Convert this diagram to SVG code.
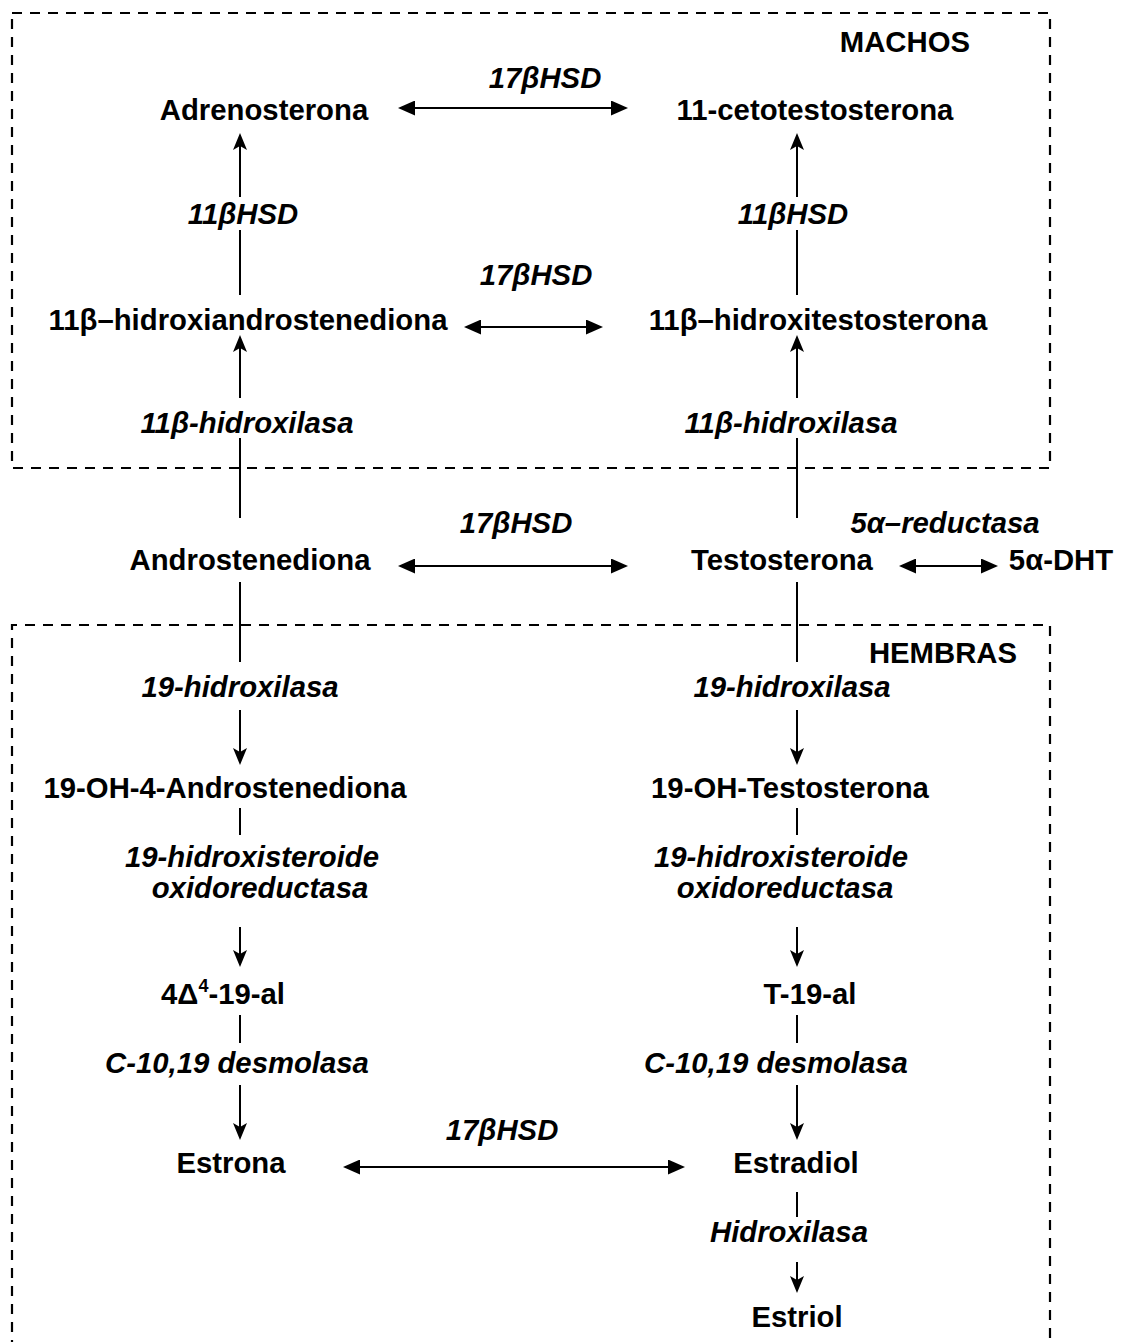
<svg xmlns="http://www.w3.org/2000/svg" width="1122" height="1342" viewBox="0 0 1122 1342">
<style>
.n{font-family:"Liberation Sans",Arial,sans-serif;font-weight:bold;font-size:29.3px;fill:#000;text-anchor:middle}
.e{font-family:"Liberation Sans",Arial,sans-serif;font-weight:bold;font-style:italic;font-size:29.3px;fill:#000;text-anchor:middle}
.box{fill:none;stroke:#000;stroke-width:2.2;stroke-dasharray:10 8}
.ln{stroke:#000;stroke-width:2;fill:none}
.h{stroke:#000;stroke-width:2;fill:none;marker-start:url(#tri);marker-end:url(#tri)}
.v{stroke:#000;stroke-width:2;fill:none;marker-end:url(#stl)}
</style>
<defs>
<marker id="tri" viewBox="0 0 17 15" refX="8" refY="7.5" markerWidth="17" markerHeight="15" markerUnits="userSpaceOnUse" orient="auto-start-reverse">
<path d="M0,0 L17,7.5 L0,15 z" fill="#000"/>
</marker>
<marker id="stl" viewBox="0 0 17 14" refX="8" refY="7" markerWidth="17" markerHeight="14" markerUnits="userSpaceOnUse" orient="auto">
<path d="M0,0 L17,7 L0,14 L4,7 z" fill="#000"/>
</marker>
</defs>
<rect width="1122" height="1342" fill="#fff"/>

<g id="regions">
<rect id="machos-box" class="box" x="12" y="13" width="1038" height="455"/>
<path id="hembras-box" class="box" d="M12,1350 L12,625 L1050,625 L1050,1350"/>
<text class="n" x="970" y="52" style="text-anchor:end">MACHOS</text>
<text class="n" x="1017" y="663" style="text-anchor:end">HEMBRAS</text>
</g>

<g id="connectors">
<line class="h" x1="407" y1="108" x2="619" y2="108"/>
<line class="h" x1="473" y1="327" x2="594" y2="327"/>
<line class="h" x1="407" y1="566" x2="619" y2="566"/>
<line class="h" x1="908" y1="566" x2="989" y2="566"/>
<line class="h" x1="352" y1="1167" x2="676" y2="1167"/>

<line class="v" x1="240" y1="197" x2="240" y2="142"/>
<line class="ln" x1="240" y1="230" x2="240" y2="295"/>
<line class="v" x1="240" y1="398" x2="240" y2="344"/>
<line class="ln" x1="240" y1="438" x2="240" y2="518"/>
<line class="ln" x1="240" y1="582" x2="240" y2="662"/>
<line class="v" x1="240" y1="710" x2="240" y2="756"/>
<line class="ln" x1="240" y1="808" x2="240" y2="835"/>
<line class="v" x1="240" y1="927" x2="240" y2="958"/>
<line class="ln" x1="240" y1="1015" x2="240" y2="1043"/>
<line class="v" x1="240" y1="1085" x2="240" y2="1131"/>

<line class="v" x1="797" y1="197" x2="797" y2="142"/>
<line class="ln" x1="797" y1="230" x2="797" y2="295"/>
<line class="v" x1="797" y1="398" x2="797" y2="344"/>
<line class="ln" x1="797" y1="438" x2="797" y2="518"/>
<line class="ln" x1="797" y1="582" x2="797" y2="662"/>
<line class="v" x1="797" y1="710" x2="797" y2="756"/>
<line class="ln" x1="797" y1="808" x2="797" y2="835"/>
<line class="v" x1="797" y1="927" x2="797" y2="958"/>
<line class="ln" x1="797" y1="1015" x2="797" y2="1043"/>
<line class="v" x1="797" y1="1085" x2="797" y2="1131"/>
<line class="ln" x1="797" y1="1192" x2="797" y2="1217"/>
<line class="v" x1="797" y1="1262" x2="797" y2="1284"/>
</g>

<g id="enzyme-labels">
<text class="e" x="545" y="88">17βHSD</text>
<text class="e" x="243" y="224">11βHSD</text>
<text class="e" x="793" y="224">11βHSD</text>
<text class="e" x="536" y="285">17βHSD</text>
<text class="e" x="247" y="433">11β-hidroxilasa</text>
<text class="e" x="791" y="433">11β-hidroxilasa</text>
<text class="e" x="516" y="533">17βHSD</text>
<text class="e" x="945" y="533">5α–reductasa</text>
<text class="e" x="240" y="697">19-hidroxilasa</text>
<text class="e" x="792" y="697">19-hidroxilasa</text>
<text class="e" x="252" y="867">19-hidroxisteroide</text>
<text class="e" x="260" y="898">oxidoreductasa</text>
<text class="e" x="781" y="867">19-hidroxisteroide</text>
<text class="e" x="785" y="898">oxidoreductasa</text>
<text class="e" x="237" y="1073">C-10,19 desmolasa</text>
<text class="e" x="776" y="1073">C-10,19 desmolasa</text>
<text class="e" x="502" y="1140">17βHSD</text>
<text class="e" x="789" y="1242">Hidroxilasa</text>
</g>

<g id="adrenosterona"><text class="n" x="264" y="120">Adrenosterona</text></g>
<g id="cetotestosterona"><text class="n" x="815" y="120">11-cetotestosterona</text></g>
<g id="hidroxiandrostenediona"><text class="n" x="248" y="330">11β–hidroxiandrostenediona</text></g>
<g id="hidroxitestosterona"><text class="n" x="818" y="330">11β–hidroxitestosterona</text></g>
<g id="androstenediona"><text class="n" x="250" y="570">Androstenediona</text></g>
<g id="testosterona"><text class="n" x="782" y="570">Testosterona</text></g>
<g id="dht"><text class="n" x="1061" y="570">5α-DHT</text></g>
<g id="oh-androstenediona"><text class="n" x="225" y="798">19-OH-4-Androstenediona</text></g>
<g id="oh-testosterona"><text class="n" x="790" y="798">19-OH-Testosterona</text></g>
<g id="delta-19-al"><text class="n" x="223" y="1004">4Δ<tspan font-size="18" dy="-12">4</tspan><tspan dy="12">-19-al</tspan></text></g>
<g id="t-19-al"><text class="n" x="810" y="1004">T-19-al</text></g>
<g id="estrona"><text class="n" x="231" y="1173">Estrona</text></g>
<g id="estradiol"><text class="n" x="796" y="1173">Estradiol</text></g>
<g id="estriol"><text class="n" x="797" y="1327">Estriol</text></g>
</svg>
